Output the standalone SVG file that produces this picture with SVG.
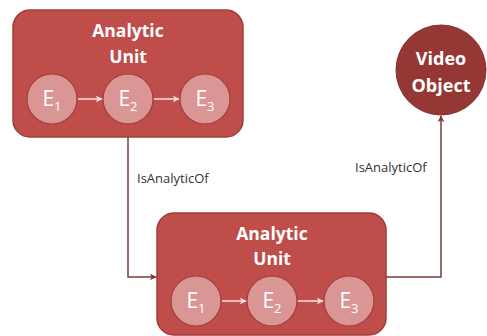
<svg xmlns="http://www.w3.org/2000/svg" width="487" height="336" viewBox="0 0 487 336">
  <style>
    .unit { fill: #BF4D4A; stroke: #A23E3B; stroke-width: 1.5; }
    .event { fill: #D99694; stroke: #A33E3C; stroke-width: 1.2; }
    .title { font-family: "Open Sans", "Liberation Sans", sans-serif; font-weight: bold; font-size: 17.5px; fill: #FFFFFF; text-anchor: middle; }
    .big { font-size: 18px; }
    .ev { font-family: "Open Sans", "Liberation Sans", sans-serif; font-size: 21px; fill: #FFFFFF; text-anchor: middle; }
    .sub { font-size: 13px; }
    .rel { font-family: "Open Sans", "Liberation Sans", sans-serif; font-size: 13px; fill: #333333; }
    .link { fill: none; stroke: #7E3A3A; stroke-width: 1.5; }
    .step { fill: none; stroke: #FBE3E2; stroke-width: 1.5; }
  </style>
  <defs>
    <marker id="arrow" viewBox="0 0 10 10" refX="9" refY="5" markerWidth="7" markerHeight="7" markerUnits="userSpaceOnUse" orient="auto">
      <path d="M0,0 L10,5 L0,10 L3,5 Z" fill="#7E3A3A"/>
    </marker>
    <marker id="arrow-light" viewBox="0 0 10 10" refX="9" refY="5" markerWidth="7" markerHeight="7" markerUnits="userSpaceOnUse" orient="auto">
      <path d="M0,0 L10,5 L0,10 L3,5 Z" fill="#FBE3E2"/>
    </marker>
  </defs>

  <!-- connectors between the units and the video object -->
  <g id="connectors">
    <path class="link" d="M128,137 V277 H156" marker-end="url(#arrow)"/>
    <path class="link" d="M386,277 H441 V116" marker-end="url(#arrow)"/>
    <text class="rel" x="137" y="183">IsAnalyticOf</text>
    <text class="rel" x="355" y="172">IsAnalyticOf</text>
  </g>

  <!-- upper analytic unit -->
  <g id="unit-top">
    <rect class="unit" x="13" y="10" width="230" height="127" rx="17"/>
    <text class="title" x="128" y="37">Analytic</text>
    <text class="title" x="128" y="63">Unit</text>
    <path class="step" d="M78,99 H102" marker-end="url(#arrow-light)"/>
    <path class="step" d="M154,99 H179" marker-end="url(#arrow-light)"/>
    <g id="unit-top-e1">
      <circle class="event" cx="52" cy="99" r="25"/>
      <text class="ev" x="52" y="106">E<tspan class="sub" dy="5">1</tspan></text>
    </g>
    <g id="unit-top-e2">
      <circle class="event" cx="128" cy="99" r="25"/>
      <text class="ev" x="128" y="106">E<tspan class="sub" dy="5">2</tspan></text>
    </g>
    <g id="unit-top-e3">
      <circle class="event" cx="205" cy="99" r="25"/>
      <text class="ev" x="205" y="106">E<tspan class="sub" dy="5">3</tspan></text>
    </g>
  </g>

  <!-- lower analytic unit -->
  <g id="unit-bottom">
    <rect class="unit" x="157" y="213" width="229" height="122" rx="17"/>
    <text class="title" x="272" y="240">Analytic</text>
    <text class="title" x="272" y="265">Unit</text>
    <path class="step" d="M222,301 H246" marker-end="url(#arrow-light)"/>
    <path class="step" d="M298,301 H323" marker-end="url(#arrow-light)"/>
    <g id="unit-bottom-e1">
      <circle class="event" cx="196" cy="301" r="25"/>
      <text class="ev" x="196" y="308">E<tspan class="sub" dy="5">1</tspan></text>
    </g>
    <g id="unit-bottom-e2">
      <circle class="event" cx="272" cy="301" r="25"/>
      <text class="ev" x="272" y="308">E<tspan class="sub" dy="5">2</tspan></text>
    </g>
    <g id="unit-bottom-e3">
      <circle class="event" cx="349" cy="301" r="25"/>
      <text class="ev" x="349" y="308">E<tspan class="sub" dy="5">3</tspan></text>
    </g>
  </g>

  <!-- video object -->
  <g id="video-object">
    <circle cx="441" cy="70" r="45" fill="#953735" stroke="#86302E" stroke-width="1"/>
    <text class="title big" x="441" y="65">Video</text>
    <text class="title big" x="441" y="92">Object</text>
  </g>
</svg>
